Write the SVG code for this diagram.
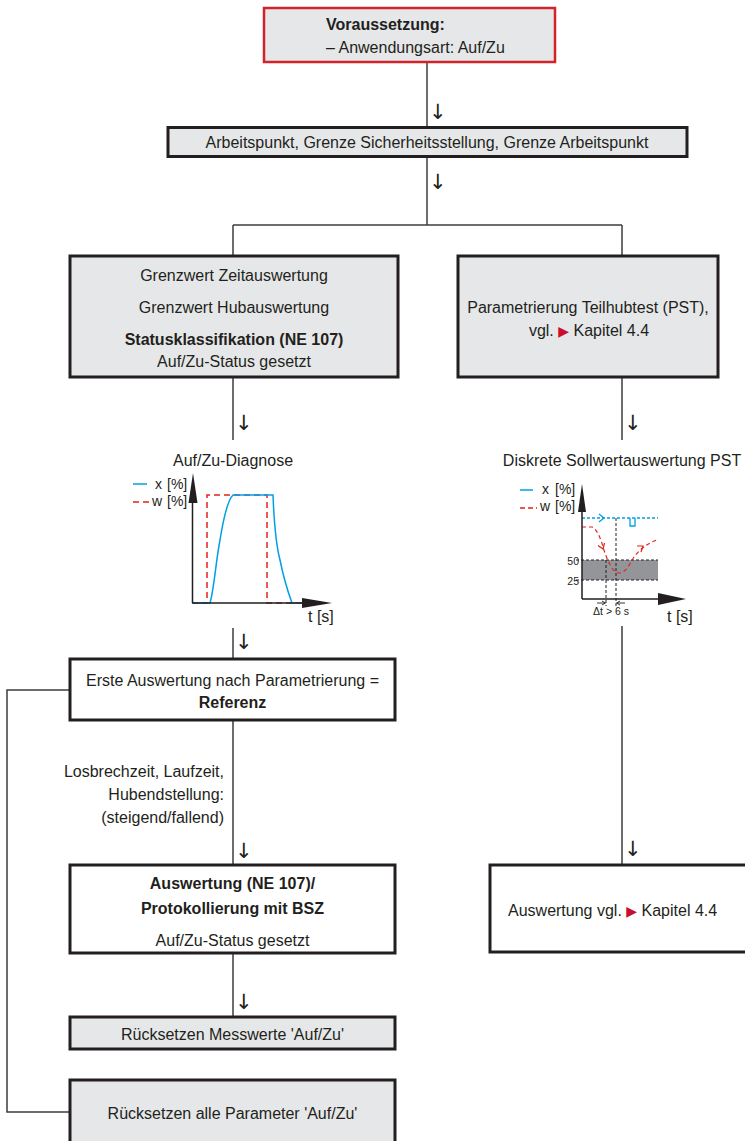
<svg xmlns="http://www.w3.org/2000/svg" width="745" height="1141" viewBox="0 0 745 1141">
<defs>
<style>
.bg{fill:#e6e7e8;stroke:#231f20;stroke-width:3}
.bw{fill:#ffffff;stroke:#231f20;stroke-width:3}
.conn{fill:none;stroke:#3c3c3c;stroke-width:1.5}
.t{font-family:"Liberation Sans",Arial,sans-serif;font-size:16px;fill:#231f20}
.b{font-weight:bold}
.c{text-anchor:middle}
.e{text-anchor:end}
.arw{font-family:"DejaVu Sans",sans-serif;font-size:21px;fill:#231f20}
.ax{fill:none;stroke:#231f20;stroke-width:1.5}
.axh{fill:#231f20}
.blue{fill:none;stroke:#00a0e3;stroke-width:1.5}
.red{fill:none;stroke:#e2231a;stroke-width:1.5;stroke-dasharray:6 4}
.redr{fill:none;stroke:#e2231a;stroke-width:1.2;stroke-dasharray:4 3}
.bd{fill:none;stroke:#231f20;stroke-width:1;stroke-dasharray:3 2}
.sm{font-family:"Liberation Sans",Arial,sans-serif;font-size:14px;fill:#231f20}
.xs{font-family:"Liberation Sans",Arial,sans-serif;font-size:10.5px;fill:#231f20}
.tri{fill:#c8102e;font-family:"DejaVu Sans",sans-serif;font-size:14px}
</style>
</defs>
<rect width="745" height="1141" fill="#ffffff"/>

<g id="connectors">
<path class="conn" d="M427,62 V127"/>
<path class="conn" d="M427,157 V225"/>
<path class="conn" d="M233,225 H622"/>
<path class="conn" d="M233,225 V256"/>
<path class="conn" d="M622,225 V256"/>
<path class="conn" d="M233,377 V440"/>
<path class="conn" d="M622,377 V440"/>
<path class="conn" d="M233,628 V659"/>
<path class="conn" d="M233,720 V865"/>
<path class="conn" d="M233,953 V1017"/>
<path class="conn" d="M70,690 H7 V1112 H70"/>
<path class="conn" d="M622,626 V865"/>
<text class="arw" x="429" y="119">↓</text>
<text class="arw" x="429" y="189">↓</text>
<text class="arw" x="235" y="430">↓</text>
<text class="arw" x="624" y="430">↓</text>
<text class="arw" x="235" y="649">↓</text>
<text class="arw" x="235" y="858">↓</text>
<text class="arw" x="235" y="1009">↓</text>
<text class="arw" x="624" y="856">↓</text>
</g>

<g id="n-start">
<rect x="264" y="8" width="291" height="54" fill="#e6e7e8" stroke="#d2232a" stroke-width="2.5"/>
<text class="t b" x="326" y="30">Voraussetzung:</text>
<text class="t" x="326" y="53">– Anwendungsart: Auf/Zu</text>
</g>

<g id="n-params">
<rect class="bg" x="168" y="127.5" width="519" height="29"/>
<text class="t c" x="427" y="148">Arbeitspunkt, Grenze Sicherheitsstellung, Grenze Arbeitspunkt</text>
</g>

<g id="n-grenzwert">
<rect class="bg" x="70" y="256" width="328" height="121"/>
<text class="t c" x="234" y="281">Grenzwert Zeitauswertung</text>
<text class="t c" x="234" y="313">Grenzwert Hubauswertung</text>
<text class="t c b" x="234" y="345">Statusklassifikation (NE 107)</text>
<text class="t c" x="234" y="367">Auf/Zu-Status gesetzt</text>
</g>

<g id="n-pst">
<rect class="bg" x="458" y="256" width="260" height="121"/>
<text class="t c" x="588" y="313">Parametrierung Teilhubtest (PST),</text>
<text class="t c" x="589" y="336">vgl. <tspan class="tri">▶</tspan> Kapitel 4.4</text>
</g>

<g id="n-diagnose">
<text class="t c" x="233" y="466">Auf/Zu-Diagnose</text>
<line x1="133" y1="484" x2="147" y2="484" stroke="#00a0e3" stroke-width="1.5"/>
<text class="sm" x="155" y="489">x</text>
<text class="sm" x="167" y="489">[%]</text>
<line x1="133" y1="502" x2="149" y2="502" stroke="#e2231a" stroke-width="1.5" stroke-dasharray="6 4"/>
<text class="sm" x="152" y="506">w</text>
<text class="sm" x="167" y="506">[%]</text>
<path class="red" d="M192,603 H207 V495 H267 V603 H302"/>
<path class="blue" d="M192,603 H210 C214,590 216,560 220,540 C224,515 228,500 233,495 H273 C274,520 276,545 280,560 C284,580 288,592 292,603 H302"/>
<path class="ax" d="M192.5,603 V500 M192.5,603 H305"/>
<polygon class="axh" points="193,473 188.5,503 197.5,503"/>
<polygon class="axh" points="302,598 332,603 302,608"/>
<text class="t" x="308" y="622">t [s]</text>
</g>

<g id="n-pst-chart">
<text class="t c" x="622" y="466">Diskrete Sollwertauswertung PST</text>
<line x1="520" y1="490" x2="533" y2="490" stroke="#00a0e3" stroke-width="1.5"/>
<text class="sm" x="542" y="494">x</text>
<text class="sm" x="555" y="494">[%]</text>
<line x1="520" y1="508" x2="537" y2="508" stroke="#e2231a" stroke-width="1.5" stroke-dasharray="5 3"/>
<text class="sm" x="540" y="511">w</text>
<text class="sm" x="555" y="511">[%]</text>
<rect x="582" y="560" width="76" height="20" fill="#939598"/>
<path class="bd" d="M576,560 H658 M576,580 H658"/>
<path class="bd" d="M606,560 V606 M616,518 V606"/>
<path d="M582,518 H658" fill="none" stroke="#00a0e3" stroke-width="1.3" stroke-dasharray="3 2"/>
<path d="M599,514 L604,518 L599,522 M630,518 V526 H635 V518" fill="none" stroke="#00a0e3" stroke-width="1.3"/>
<path class="redr" d="M582,527 H592 C598,530 601,540 604,550 C608,562 613,573 619,573 C626,573 630,563 634,557 C640,549 648,543 657,540"/>
<path d="M598,545.5 L603,549 L604.5,543 M637,546 L643,546 L641,552" fill="none" stroke="#e2231a" stroke-width="1.2"/>
<path class="ax" d="M582,599 V508 M582,599 H660"/>
<polygon class="axh" points="582,484 578,512 586,512"/>
<polygon class="axh" points="658,593 686,599 658,605"/>
<text class="xs e" x="579" y="565">50</text>
<text class="xs e" x="579" y="585">25</text>
<path d="M597,603 H605 M602,601 L605.5,603 L602,605 M625,603 H617 M620,601 L616.5,603 L620,605" fill="none" stroke="#231f20" stroke-width="0.9"/>
<text class="xs c" x="611" y="615">Δt &gt; 6 s</text>
<text class="t" x="667" y="622">t [s]</text>
</g>

<g id="n-referenz">
<rect class="bw" x="70" y="659" width="325" height="61"/>
<text class="t c" x="232.5" y="686">Erste Auswertung nach Parametrierung =</text>
<text class="t c b" x="232.5" y="708">Referenz</text>
</g>

<g id="n-label">
<text class="t e" x="224" y="777">Losbrechzeit, Laufzeit,</text>
<text class="t e" x="224" y="800">Hubendstellung:</text>
<text class="t e" x="224" y="823">(steigend/fallend)</text>
</g>

<g id="n-auswertung">
<rect class="bw" x="70" y="865" width="325" height="88"/>
<text class="t c b" x="232.5" y="889">Auswertung (NE 107)/</text>
<text class="t c b" x="232.5" y="914">Protokollierung mit BSZ</text>
<text class="t c" x="232.5" y="946">Auf/Zu-Status gesetzt</text>
</g>

<g id="n-reset-mess">
<rect class="bg" x="70" y="1017" width="325" height="32"/>
<text class="t c" x="232.5" y="1040">Rücksetzen Messwerte 'Auf/Zu'</text>
</g>

<g id="n-reset-all">
<rect class="bg" x="70" y="1080" width="325" height="80"/>
<text class="t c" x="232.5" y="1119">Rücksetzen alle Parameter 'Auf/Zu'</text>
</g>

<g id="n-auswertung-pst">
<rect class="bw" x="490" y="865" width="280" height="87"/>
<text class="t" x="508" y="916">Auswertung vgl. <tspan class="tri">▶</tspan> Kapitel 4.4</text>
</g>
</svg>
